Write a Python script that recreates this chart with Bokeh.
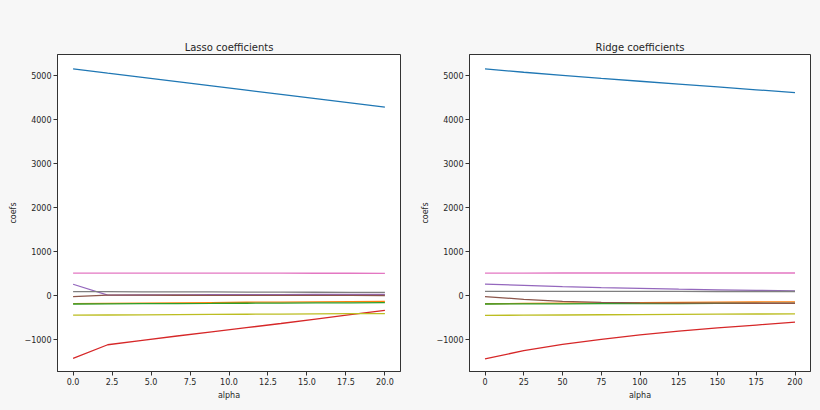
from bokeh.plotting import figure
from bokeh.layouts import row
from bokeh.models import Range1d, FixedTicker, PrintfTickFormatter
from bokeh.embed import file_html
from bokeh.resources import INLINE

# ---- data ----
colors = ["#1f77b4", "#ff7f0e", "#2ca02c", "#d62728", "#9467bd",
          "#8c564b", "#e377c2", "#7f7f7f", "#bcbd22"]

lasso_alpha = [0.0, 2.22, 4.44, 6.67, 8.89, 11.11, 13.33, 15.56, 17.78, 20.0]
lasso_c0 = [5160, 5063, 4967, 4870, 4773, 4677, 4580, 4483, 4387, 4290]
lasso_c1 = [-190, -185, -179, -173, -167, -161, -156, -150, -145, -140]
lasso_c2 = [-200, -197, -193, -190, -187, -183, -180, -177, -173, -170]
lasso_c3 = [-1440, -1130, -1030, -930, -835, -740, -645, -545, -445, -345]
lasso_c4 = [250, 0, 5, 8, 10, 12, 14, 16, 18, 20]
lasso_c5 = [-30, 2, 0, -1, -2, -3, -4, -5, -6, -7]
lasso_c6 = [505, 504, 504, 503, 503, 502, 502, 501, 501, 500]
lasso_c7 = [82, 80, 78, 76, 74, 72, 70, 68, 66, 64]
lasso_c8 = [-455, -451, -447, -443, -438, -434, -430, -426, -422, -418]

ridge_alpha = [0, 25, 50, 75, 100, 125, 150, 175, 200]
ridge_c0 = [5160, 5085, 5015, 4945, 4880, 4815, 4750, 4685, 4620]
ridge_c1 = [-195, -188, -182, -176, -170, -165, -160, -155, -150]
ridge_c2 = [-200, -198, -196, -194, -192, -190, -188, -186, -184]
ridge_c3 = [-1450, -1265, -1120, -1005, -905, -820, -745, -680, -615]
ridge_c4 = [255, 225, 198, 175, 155, 138, 123, 110, 100]
ridge_c5 = [-30, -95, -140, -165, -175, -180, -182, -183, -183]
ridge_c6 = [505, 505, 506, 506, 506, 507, 507, 507, 507]
ridge_c7 = [88, 88, 87, 87, 86, 86, 85, 85, 85]
ridge_c8 = [-460, -455, -451, -446, -442, -438, -433, -429, -425]

y_ticks = [-1000, 0, 1000, 2000, 3000, 4000, 5000]
lasso_x_ticks = [0, 2.5, 5, 7.5, 10, 12.5, 15, 17.5, 20]
ridge_x_ticks = [0, 25, 50, 75, 100, 125, 150, 175, 200]

lasso_series = [lasso_c0, lasso_c1, lasso_c2, lasso_c3, lasso_c4,
                lasso_c5, lasso_c6, lasso_c7, lasso_c8]
ridge_series = [ridge_c0, ridge_c1, ridge_c2, ridge_c3, ridge_c4,
                ridge_c5, ridge_c6, ridge_c7, ridge_c8]

BG = "#f7f7f7"
TXT = "#262626"
FONT = "DejaVu Sans"


def make_fig(title, xs, series, xr, xticks, width, left_border, right_border, fmt):
    p = figure(width=width, height=402, title=title,
               x_range=xr, y_range=Range1d(-1740, 5490),
               output_backend="svg", toolbar_location=None,
               min_border_left=left_border, min_border_right=right_border,
               min_border_top=54, min_border_bottom=28)
    p.background_fill_color = "white"
    p.border_fill_color = BG
    p.outline_line_color = "#333333"
    p.outline_line_width = 1
    p.grid.visible = False
    p.title.align = "center"
    p.title.text_font = FONT
    p.title.text_font_size = "10px"
    p.title.text_font_style = "normal"
    p.title.text_color = TXT
    p.title.standoff = 3
    for ax in (p.xaxis[0], p.yaxis[0]):
        ax.axis_line_color = "#333333"
        ax.major_tick_line_color = "#333333"
        ax.major_tick_out = 4
        ax.major_tick_in = 0
        ax.minor_tick_line_color = None
        ax.major_label_text_font = FONT
        ax.major_label_text_font_size = "8px"
        ax.major_label_text_color = TXT
        ax.axis_label_text_font = FONT
        ax.axis_label_text_font_size = "8px"
        ax.axis_label_text_font_style = "normal"
        ax.axis_label_text_color = TXT
        ax.major_label_standoff = 2
        ax.axis_label_standoff = 3
    p.xaxis.axis_label = "alpha"
    p.yaxis.axis_label = "coefs"
    p.xaxis.ticker = FixedTicker(ticks=xticks)
    p.yaxis.ticker = FixedTicker(ticks=y_ticks)
    if fmt:
        p.xaxis.formatter = PrintfTickFormatter(format=fmt)
    p.yaxis.major_label_overrides = {-1000: "\u22121000"}
    for ys, c in zip(series, colors):
        p.line(xs, ys, line_color=c, line_width=1.3)
    return p


p1 = make_fig("Lasso coefficients", lasso_alpha, lasso_series,
              Range1d(-1.0, 21.0), lasso_x_ticks, 418, 57, 18, "%.1f")
p2 = make_fig("Ridge coefficients", ridge_alpha, ridge_series,
              Range1d(-10, 210), ridge_x_ticks, 394, 49, 2, None)

layout = row(p1, p2)
html = file_html(layout, INLINE)
html = html.replace("<head>", "<head><style>body{background-color:%s;}</style>" % BG, 1)
open("out.html", "w").write(html)
